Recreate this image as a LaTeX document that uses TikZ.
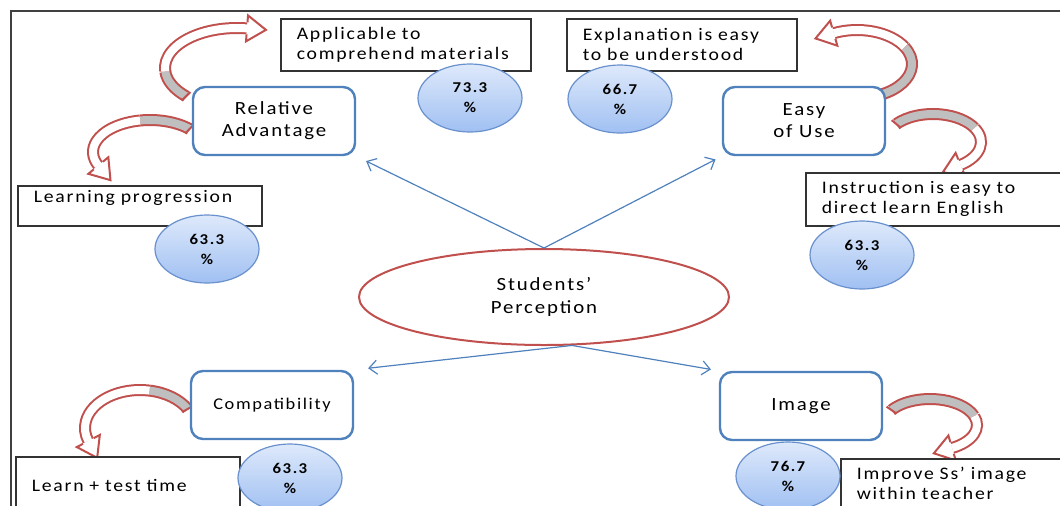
\documentclass[tikz,border=0pt]{standalone}
\usepackage{fontspec}
\setmainfont{Carlito}[LetterSpace=10, FakeStretch=1.12]
\usetikzlibrary{shapes.geometric, arrows.meta}
\definecolor{linkblue}{RGB}{79,129,189}
\definecolor{bendred}{RGB}{192,80,77}
\definecolor{pctedge}{RGB}{105,145,205}
\definecolor{pcttop}{RGB}{222,233,251}
\definecolor{pctbot}{RGB}{160,192,242}
\tikzset{>={Straight Barb[length=4pt,width=7pt]},
factor/.style={draw=linkblue, line width=1.2pt, rounded corners=6pt, fill=white,
  minimum width=81pt, minimum height=34pt, align=center, font=\fontsize{9.3}{11}\selectfont},
perception/.style={ellipse, draw=bendred, line width=1pt, fill=white,
  minimum width=185pt, minimum height=48pt, align=center, font=\fontsize{9.3}{11.5}\selectfont},
note/.style={draw=black!80, line width=0.8pt, fill=white, anchor=north west, align=left,
  inner xsep=8pt, inner ysep=0pt, font=\fontsize{8.8}{10}\selectfont},
pct/.style={ellipse, draw=pctedge, line width=0.6pt, top color=pcttop, bottom color=pctbot,
  minimum width=52pt, minimum height=34pt, inner sep=0pt, align=center,
  font=\fontsize{7.5}{10}\selectfont\bfseries},
link/.style={->, draw=linkblue, line width=0.6pt},
band/.style={draw=bendred, line width=1pt, double distance=4pt},
}
% curved block arrow: centre x, centre y, x radius, y radius, start, end of grey part, end
\newcommand\bendarrow[7]{%
\begin{scope}[shift={(#1,#2)}]
\draw[band, double=black!25] (#5:#3 and #4) arc[start angle=#5, end angle=#6, x radius=#3, y radius=#4];
\draw[band, double=white] (#6:#3 and #4) arc[start angle=#6, end angle=#7, x radius=#3, y radius=#4];
\draw[bendred, line width=1pt] (#5:#3-6 and #4-6) -- (#5:#3+6 and #4+6);
\pgfmathsetmacro\bendsign{(#7>#6) ? 1 : -1}
\pgfmathsetmacro\bendang{atan2(\bendsign*#4*cos(#7), \bendsign*(0-#3*sin(#7)))}
\begin{scope}[shift={(#7:#3 and #4)}, rotate=\bendang]
\fill[white] (0,-13) -- (19,0) -- (0,13) -- cycle;
\draw[bendred, line width=1pt] (0,-6) -- (0,-13) -- (19,0) -- (0,13) -- (0,6);
\end{scope}
\end{scope}}

\begin{document}
\begin{tikzpicture}[x=0.5pt, y=0.5pt]
\useasboundingbox (0,0) rectangle (1060,-505);
\clip (0,0) rectangle (1060,-505);
\draw[black!75, line width=1pt] (11,-11) rectangle (1080,-530);

\bendarrow{237}{-68}{72}{40}{225}{185}{82}
\bendarrow{150}{-152}{57}{32}{46}{100}{205}
\bendarrow{857}{-64}{55}{34}{-64}{30}{115}
\bendarrow{933}{-142}{48}{28}{140}{30}{-55}
\bendarrow{140}{-428}{55}{38}{30}{80}{200}
\bendarrow{930}{-425}{47}{26}{145}{20}{-62}

\node[factor] (rel) at (274,-121) {Relative\\Advantage};
\node[factor] (ease) at (804,-121) {Easy\\of Use};
\node[factor, font=\fontsize{8.2}{11}\selectfont] (comp) at (272,-405) {Compatibility};
\node[factor] (img) at (801,-406) {Image};
\node[perception] (stu) at (544,-297) {Students’\\Perception};

\node[note, text width=109pt, minimum height=26pt] (app) at (280,-18) {Applicable to\\comprehend materials};
\node[note, text width=99pt, minimum height=26pt] (expl) at (566,-18) {Explanation is easy\\to be understood};
\node[note, text width=106pt, minimum height=20pt, text depth=9pt] (learn) at (17,-185) {Learning progression};
\node[note, text width=119pt, minimum height=26.5pt] (instr) at (805,-172) {Instruction is easy to\\direct learn English};
\node[note, text width=96pt, minimum height=29pt] (ltt) at (15,-456) {Learn + test time};
\node[note, text width=104pt, minimum height=24.5pt] (imp) at (840,-458) {Improve Ss’ image\\within teacher};

\node[pct] (p1) at (470,-98) {73.3\\\%};
\node[pct] (p2) at (620,-99) {66.7\\\%};
\node[pct] (p3) at (207,-249) {63.3\\\%};
\node[pct] (p4) at (862,-255) {63.3\\\%};
\node[pct] (p5) at (290,-478) {63.3\\\%};
\node[pct] (p6) at (788,-476) {76.7\\\%};

\draw[link, shorten >=5.5pt] (stu.north) -- (rel.south east);
\draw[link, shorten >=3.5pt] (stu.north) -- (ease.south west);
\draw[link, shorten >=7pt] (stu.-60) -- (comp.north east);
\draw[link, shorten >=4pt] (stu.-60) -- (img.north west);
\end{tikzpicture}
\end{document}
